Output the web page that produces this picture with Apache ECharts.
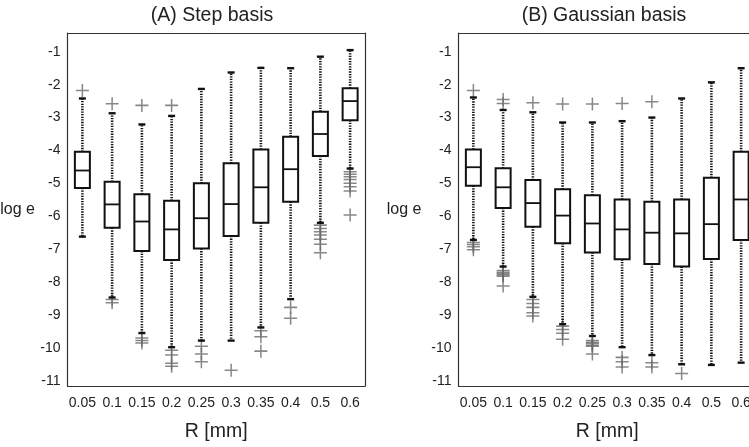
<!DOCTYPE html>
<html>
<head>
<meta charset="utf-8">
<script src="https://cdn.jsdelivr.net/npm/echarts@6/dist/echarts.min.js"></script>
<style>
  html, body { margin: 0; padding: 0; background: #fff; }
  #chart { width: 749px; height: 447px; }
</style>
</head>
<body>
<div id="chart"></div>
<script>
// Radius categories (x axis) and log-error tick values (y axis)
const categories = ['0.05', '0.1', '0.15', '0.2', '0.25', '0.3', '0.35', '0.4', '0.5', '0.6'];
const yTickValues = [-11, -10, -9, -8, -7, -6, -5, -4, -3, -2, -1];

// (A) Step basis: whisker ends, quartiles, medians, outliers
const stepLow    = [-6.62, -8.47, -9.55, -9.98, -9.78, -9.78, -9.38, -8.52, -6.20, -4.55];
const stepQ1     = [-5.14, -6.35, -7.06, -7.33, -6.98, -6.60, -6.20, -5.56, -4.17, -3.08];
const stepMedian = [-4.61, -5.64, -6.16, -6.40, -6.06, -5.63, -5.12, -4.57, -3.50, -2.50];
const stepQ3     = [-4.04, -4.95, -5.33, -5.53, -5.00, -4.39, -3.97, -3.58, -2.82, -2.11];
const stepHigh   = [-2.42, -2.87, -3.21, -2.95, -2.13, -1.63, -1.49, -1.50, -1.15, -0.95];
const stepOutliers = [
  [-2.18],
  [-2.58, -8.53, -8.63],
  [-2.63, -9.70, -9.78, -9.85],
  [-2.63, -10.07, -10.22, -10.47, -10.56],
  [-9.95, -10.19, -10.42],
  [-10.68],
  [-9.48, -9.66, -10.10],
  [-8.77, -9.10],
  [-6.27, -6.37, -6.47, -6.57, -6.70, -6.85, -7.11],
  [-4.65, -4.72, -4.80, -4.88, -5.00, -5.10, -5.23, -5.96]
];

// (B) Gaussian basis
const gaussLow    = [-6.72, -7.53, -8.45, -9.28, -9.64, -9.98, -10.22, -10.50, -10.52, -10.45];
const gaussQ1     = [-5.07, -5.75, -6.32, -6.82, -7.10, -7.31, -7.45, -7.53, -7.30, -6.72];
const gaussMedian = [-4.51, -5.12, -5.60, -5.98, -6.22, -6.40, -6.50, -6.52, -6.24, -5.49];
const gaussQ3     = [-3.97, -4.54, -4.90, -5.18, -5.36, -5.49, -5.56, -5.49, -4.83, -4.04];
const gaussHigh   = [-2.39, -2.77, -2.84, -3.15, -3.15, -3.11, -3.00, -2.42, -1.93, -1.50];
const gaussOutliers = [
  [-2.18, -6.80, -6.86, -6.93, -7.02],
  [-2.45, -2.57, -7.65, -7.70, -7.74, -7.78, -7.82, -8.12],
  [-2.55, -8.53, -8.65, -8.77, -8.93, -9.03],
  [-2.59, -9.34, -9.44, -9.56, -9.74],
  [-2.59, -9.78, -9.83, -9.87, -9.92, -9.95, -10.19],
  [-2.57, -10.29, -10.42, -10.58],
  [-2.52, -10.45, -10.58],
  [-10.78],
  [],
  []
];

const FONT = '"Liberation Sans", Arial, Helvetica, sans-serif';
const Y_MIN = -11.16, Y_MAX = -0.43;

function boxRows(low, q1, med, q3, high) {
  return categories.map((c, i) => [i, low[i], q1[i], med[i], q3[i], high[i]]);
}
function outlierPoints(list) {
  return list.flatMap((vals, i) => vals.map(v => [i, v]));
}

// Box with solid outline, dotted whiskers and short solid caps
function renderBox(params, api) {
  const i = api.value(0);
  const low = api.coord([i, api.value(1)]);
  const q1 = api.coord([i, api.value(2)]);
  const med = api.coord([i, api.value(3)]);
  const q3 = api.coord([i, api.value(4)]);
  const high = api.coord([i, api.value(5)]);
  const x = med[0];
  const hw = 7.5, cw = 3.5;
  const dotted = { stroke: '#111', lineWidth: 2.6, lineDash: [1.3, 1.3] };
  const solid = { stroke: '#111', lineWidth: 2.4 };
  return {
    type: 'group',
    children: [
      { type: 'line', shape: { x1: x, y1: q3[1], x2: x, y2: high[1] }, style: dotted },
      { type: 'line', shape: { x1: x, y1: q1[1], x2: x, y2: low[1] }, style: dotted },
      { type: 'line', shape: { x1: x - cw, y1: high[1], x2: x + cw, y2: high[1] }, style: solid },
      { type: 'line', shape: { x1: x - cw, y1: low[1], x2: x + cw, y2: low[1] }, style: solid },
      { type: 'rect', shape: { x: x - hw, y: q3[1], width: hw * 2, height: q1[1] - q3[1] },
        style: { fill: '#fff', stroke: '#111', lineWidth: 2 } },
      { type: 'line', shape: { x1: x - hw, y1: med[1], x2: x + hw, y2: med[1] },
        style: { stroke: '#111', lineWidth: 1.8 } }
    ]
  };
}

const axisLineStyle = { color: '#333', width: 1.2 };
const tickStyle = { inside: true, length: 4, lineStyle: { color: '#333', width: 1 } };

function xAxes(gridIndex) {
  return [
    { type: 'category', gridIndex, data: categories, position: 'bottom', boundaryGap: true,
      axisLine: { lineStyle: axisLineStyle },
      axisTick: Object.assign({ alignWithLabel: true, interval: 0 }, tickStyle),
      axisLabel: { interval: 0, fontFamily: FONT, fontSize: 14, color: '#222', margin: 10 },
      name: 'R [mm]', nameLocation: 'middle', nameGap: 36,
      nameTextStyle: { fontFamily: FONT, fontSize: 19.5, color: '#222' } },
    { type: 'category', gridIndex, data: categories, position: 'top', boundaryGap: true,
      axisLine: { lineStyle: axisLineStyle },
      axisTick: Object.assign({ alignWithLabel: true, interval: 0 }, tickStyle),
      axisLabel: { show: false } }
  ];
}
function yAxes(gridIndex, nameGap) {
  return [
    { type: 'value', gridIndex, position: 'left', min: Y_MIN, max: Y_MAX,
      axisLine: { show: true, lineStyle: axisLineStyle },
      axisTick: Object.assign({ customValues: yTickValues }, tickStyle),
      axisLabel: { customValues: yTickValues, fontFamily: FONT, fontSize: 14, color: '#222', margin: 7 },
      splitLine: { show: false },
      name: 'log e', nameLocation: 'middle', nameRotate: 0, nameGap,
      nameTextStyle: { fontFamily: FONT, fontSize: 16, color: '#222' } },
    { type: 'value', gridIndex, position: 'right', min: Y_MIN, max: Y_MAX,
      axisLine: { show: true, lineStyle: axisLineStyle },
      axisTick: Object.assign({ customValues: yTickValues }, tickStyle),
      axisLabel: { show: false },
      splitLine: { show: false } }
  ];
}

const plusSymbol = 'path://M0,5.3H12V6.7H0Z M5.3,0H6.7V12H5.3Z';
const titleStyle = { fontFamily: FONT, fontSize: 19.5, fontWeight: 'normal', color: '#222' };

const chart = echarts.init(document.getElementById('chart'), null, { renderer: 'canvas' });
chart.setOption({
  backgroundColor: '#fff',
  animation: false,
  title: [
    { text: '(A) Step basis', left: 212, top: 6, textAlign: 'center', padding: 0, textStyle: titleStyle },
    { text: '(B) Gaussian basis', left: 604, top: 6, textAlign: 'center', padding: 0, textStyle: titleStyle }
  ],
  grid: [
    { left: 67.5, top: 33, width: 297.5, height: 353, outerBoundsMode: 'none', containLabel: false },
    { left: 458.5, top: 33, width: 297.5, height: 353, outerBoundsMode: 'none', containLabel: false }
  ],
  xAxis: [...xAxes(0), ...xAxes(1)],
  yAxis: [...yAxes(0, 32.5), ...yAxes(1, 37)],
  series: [
    { type: 'scatter', xAxisIndex: 0, yAxisIndex: 0, data: outlierPoints(stepOutliers),
      symbol: plusSymbol, symbolSize: 13, itemStyle: { color: '#6a6a6a' }, z: 2 },
    { type: 'custom', xAxisIndex: 0, yAxisIndex: 0, renderItem: renderBox,
      data: boxRows(stepLow, stepQ1, stepMedian, stepQ3, stepHigh),
      encode: { x: 0, y: [1, 2, 3, 4, 5] }, z: 3 },
    { type: 'scatter', xAxisIndex: 2, yAxisIndex: 2, data: outlierPoints(gaussOutliers),
      symbol: plusSymbol, symbolSize: 13, itemStyle: { color: '#6a6a6a' }, z: 2 },
    { type: 'custom', xAxisIndex: 2, yAxisIndex: 2, renderItem: renderBox,
      data: boxRows(gaussLow, gaussQ1, gaussMedian, gaussQ3, gaussHigh),
      encode: { x: 0, y: [1, 2, 3, 4, 5] }, z: 3 }
  ]
});
</script>
</body>
</html>
